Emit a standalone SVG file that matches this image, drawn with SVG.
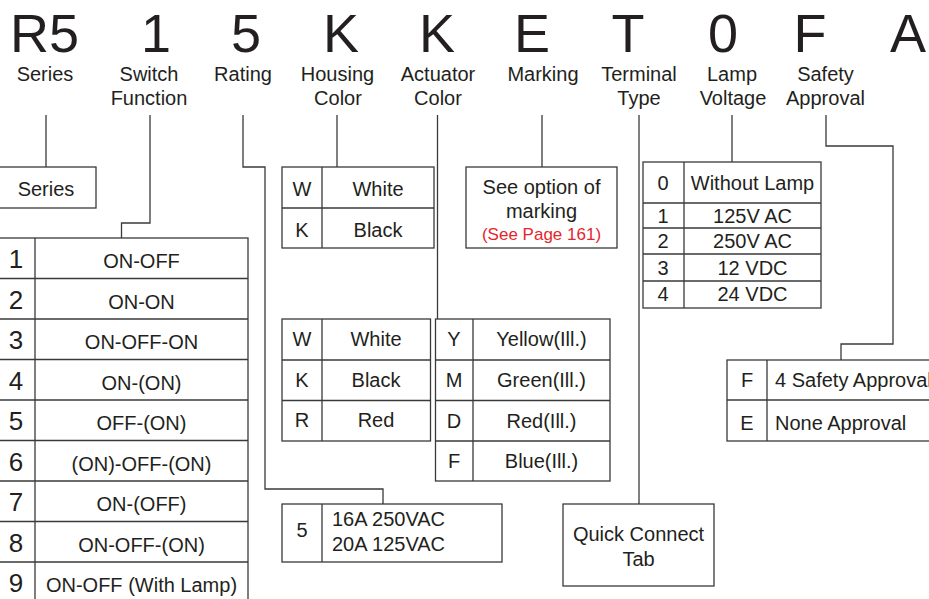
<svg xmlns="http://www.w3.org/2000/svg" width="929" height="599" viewBox="0 0 929 599">
<style>
text{font-family:"Liberation Sans",Arial,sans-serif;fill:#231f20}
.big{font-size:54px;text-anchor:middle}
.lbl{font-size:20px;text-anchor:middle}
.t{font-size:20px;text-anchor:middle}
.s{font-size:20px}
.num{font-size:26px;text-anchor:middle}
.red{font-size:17px;text-anchor:middle;fill:#e5262e}
.box{fill:none;stroke:#3a3a3a;stroke-width:1.3}
.ln{fill:none;stroke:#3a3a3a;stroke-width:1.3}
</style>
<rect width="929" height="599" fill="#fff"/>
<g id="header">
<text class="big" x="44.5" y="52">R5</text>
<text class="big" x="156" y="52">1</text>
<text class="big" x="246" y="52">5</text>
<text class="big" x="341" y="52">K</text>
<text class="big" x="437" y="52">K</text>
<text class="big" x="532" y="52">E</text>
<text class="big" x="628" y="52">T</text>
<text class="big" x="723" y="52">0</text>
<text class="big" x="810" y="52">F</text>
<text class="big" x="908" y="52">A</text>
<text class="lbl" x="45" y="81">Series</text>
<text class="lbl" x="149" y="81">Switch</text>
<text class="lbl" x="149" y="105">Function</text>
<text class="lbl" x="243" y="81">Rating</text>
<text class="lbl" x="337.5" y="81">Housing</text>
<text class="lbl" x="338" y="105">Color</text>
<text class="lbl" x="438" y="81">Actuator</text>
<text class="lbl" x="438" y="105">Color</text>
<text class="lbl" x="543" y="81">Marking</text>
<text class="lbl" x="639" y="81">Terminal</text>
<text class="lbl" x="639" y="105">Type</text>
<text class="lbl" x="732" y="81">Lamp</text>
<text class="lbl" x="733" y="105">Voltage</text>
<text class="lbl" x="825.5" y="81">Safety</text>
<text class="lbl" x="825.5" y="105">Approval</text>
</g>
<g id="connectors">
<path class="ln" d="M46,115V167"/>
<path class="ln" d="M150,115V223H121.5V238"/>
<path class="ln" d="M243,115V167H265V489H383V504"/>
<path class="ln" d="M337,115V167"/>
<path class="ln" d="M437.5,115V319"/>
<path class="ln" d="M542,115V167"/>
<path class="ln" d="M639,115V504"/>
<path class="ln" d="M732,115V162"/>
<path class="ln" d="M826,115V146H893V344H841V360"/>
</g>
<g id="series">
<rect class="box" x="-2" y="167" width="98" height="41"/>
<text class="t" x="46" y="196">Series</text>
</g>
<g id="switch-function">
<rect class="box" x="-2" y="238" width="250" height="372"/>
<path class="ln" d="M35,238V610M-2,278.5H248M-2,319H248M-2,359.5H248M-2,400H248M-2,440.5H248M-2,481H248M-2,521.5H248M-2,562H248"/>
<text class="num" x="16" y="268">1</text><text class="t" x="141.5" y="268">ON-OFF</text>
<text class="num" x="16" y="308.5">2</text><text class="t" x="141.5" y="308.5">ON-ON</text>
<text class="num" x="16" y="349">3</text><text class="t" x="141.5" y="349">ON-OFF-ON</text>
<text class="num" x="16" y="389.5">4</text><text class="t" x="141.5" y="389.5">ON-(ON)</text>
<text class="num" x="16" y="430">5</text><text class="t" x="141.5" y="430">OFF-(ON)</text>
<text class="num" x="16" y="470.5">6</text><text class="t" x="141.5" y="470.5">(ON)-OFF-(ON)</text>
<text class="num" x="16" y="511">7</text><text class="t" x="141.5" y="511">ON-(OFF)</text>
<text class="num" x="16" y="551.5">8</text><text class="t" x="141.5" y="551.5">ON-OFF-(ON)</text>
<text class="num" x="16" y="592">9</text><text class="t" x="141.5" y="592">ON-OFF (With Lamp)</text>
</g>
<g id="rating">
<rect class="box" x="282" y="504" width="220" height="58"/>
<path class="ln" d="M322,504V562"/>
<text class="t" x="302" y="537">5</text>
<text class="s" x="332" y="526">16A 250VAC</text>
<text class="s" x="332" y="551">20A 125VAC</text>
</g>
<g id="housing-color">
<rect class="box" x="282" y="167" width="152" height="81"/>
<path class="ln" d="M322,167V248M282,208H434"/>
<text class="t" x="302" y="196">W</text><text class="t" x="378" y="196">White</text>
<text class="t" x="302" y="237">K</text><text class="t" x="378" y="237">Black</text>
</g>
<g id="actuator-color">
<rect class="box" x="282" y="319" width="148.5" height="122"/>
<path class="ln" d="M322,319V441M282,360H430.5M282,400.5H430.5"/>
<text class="t" x="302" y="346">W</text><text class="t" x="376" y="346">White</text>
<text class="t" x="302" y="386.5">K</text><text class="t" x="376" y="386.5">Black</text>
<text class="t" x="302" y="427">R</text><text class="t" x="376" y="427">Red</text>
</g>
<g id="actuator-color-illuminated">
<rect class="box" x="435.5" y="319" width="174.5" height="162"/>
<path class="ln" d="M473,319V481M435.5,360H610M435.5,400.5H610M435.5,441H610"/>
<text class="t" x="454" y="346">Y</text><text class="t" x="541.5" y="346">Yellow(Ill.)</text>
<text class="t" x="454" y="387">M</text><text class="t" x="541.5" y="387">Green(Ill.)</text>
<text class="t" x="454" y="427.5">D</text><text class="t" x="541.5" y="427.5">Red(Ill.)</text>
<text class="t" x="454" y="468">F</text><text class="t" x="541.5" y="468">Blue(Ill.)</text>
</g>
<g id="marking">
<rect class="box" x="466" y="167" width="151" height="81"/>
<text class="t" x="541.5" y="194">See option of</text>
<text class="t" x="541.5" y="218">marking</text>
<text class="red" x="541.5" y="240">(See Page 161)</text>
</g>
<g id="terminal-type">
<rect class="box" x="563" y="504" width="151" height="82"/>
<text class="t" x="638.5" y="541">Quick Connect</text>
<text class="t" x="638.5" y="566">Tab</text>
</g>
<g id="lamp-voltage">
<rect class="box" x="643" y="162" width="178" height="146"/>
<path class="ln" d="M684,162V308M643,203H821M643,228H821M643,254H821M643,281H821"/>
<text class="t" x="663" y="190">0</text><text class="t" x="752.5" y="190">Without Lamp</text>
<text class="t" x="663" y="222.5">1</text><text class="t" x="752.5" y="222.5">125V AC</text>
<text class="t" x="663" y="248">2</text><text class="t" x="752.5" y="248">250V AC</text>
<text class="t" x="663" y="274.5">3</text><text class="t" x="752.5" y="274.5">12 VDC</text>
<text class="t" x="663" y="301">4</text><text class="t" x="752.5" y="301">24 VDC</text>
</g>
<g id="safety-approval">
<rect class="box" x="727" y="360" width="210" height="81"/>
<path class="ln" d="M767,360V441M727,400H937"/>
<text class="t" x="747" y="387">F</text><text class="s" x="775" y="387">4 Safety Approval</text>
<text class="t" x="747" y="430">E</text><text class="s" x="775" y="430">None Approval</text>
</g>
</svg>
